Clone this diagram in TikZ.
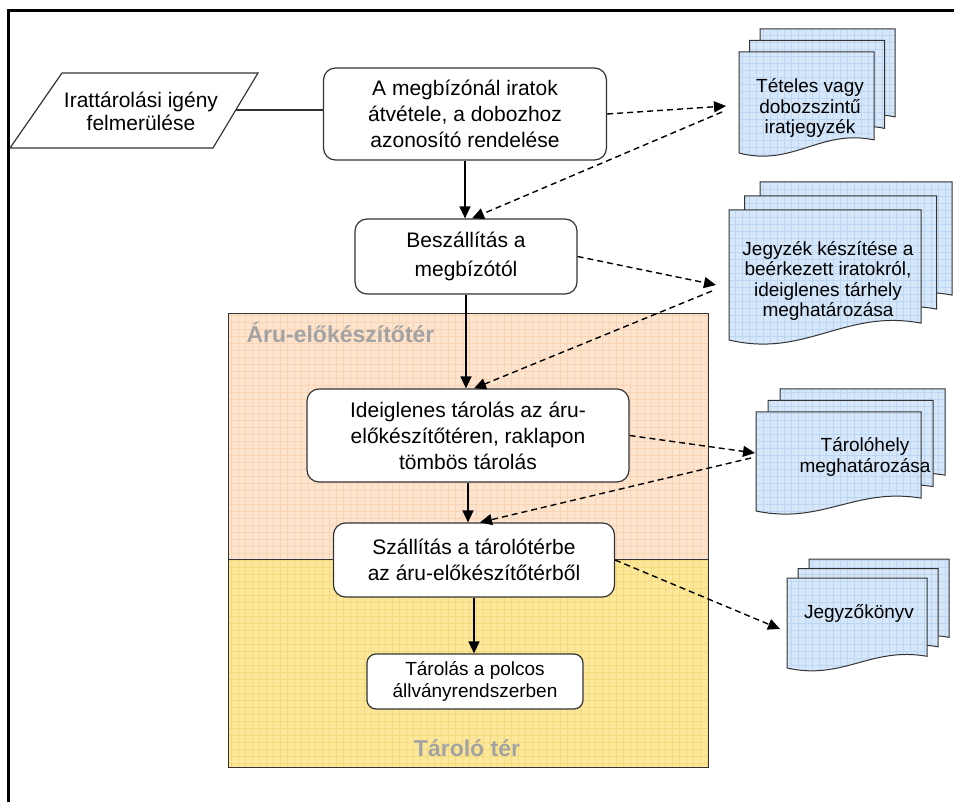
\documentclass[tikz,border=0pt]{standalone}
\usepackage{fontspec}
\setmainfont{Liberation Sans}
\usetikzlibrary{arrows.meta}

\definecolor{prepfill}{HTML}{FDE4CF}
\definecolor{prepgrid}{HTML}{F8D3B4}
\definecolor{storefill}{HTML}{FCE89A}
\definecolor{storegrid}{HTML}{F4DA7C}
\definecolor{docfill}{HTML}{D6E7FA}
\definecolor{docgrid}{HTML}{BDD7F2}
\definecolor{edge}{HTML}{333333}
\definecolor{zonetext}{HTML}{A3A3A3}

% one sheet of a document stack: left, top, width, height
\newcommand\docpage[4]{%
  \path[docpage] ({#1},{#2}) -- ({#1+#3},{#2}) -- ({#1+#3},{#2+0.87*#4})
    .. controls ({#1+0.6*#3},{#2+0.76*#4}) and ({#1+0.4*#3},{#2+1.14*#4}) .. ({#1},{#2+#4}) -- cycle;}
% three sheets, shifted by dx, dy
\newcommand\multidoc[6]{%
  \docpage{#1+2*#5}{#2-2*#6}{#3}{#4}
  \docpage{#1+#5}{#2-#6}{#3}{#4}
  \docpage{#1}{#2}{#3}{#4}}

\begin{document}
\begin{tikzpicture}[x=1pt,y=-1pt,
  gridded/.style={path picture={\draw[#1,line width=0.5pt,step=7pt]
      (path picture bounding box.south west) grid (path picture bounding box.north east);}},
  docpage/.style={fill=docfill,draw=edge,line width=1pt,gridded=docgrid},
  procbox/.style={draw=edge,fill=white,rounded corners=12pt,line width=1.2pt,
      align=center,inner sep=0pt,font=\fontsize{21}{26}\selectfont},
  doctext/.style={align=center,font=\fontsize{19}{20.5}\selectfont},
  zonelabel/.style={text=zonetext,font=\bfseries\fontsize{23}{27}\selectfont},
  flow/.style={line width=1.4pt,-{Triangle[length=12pt,width=11pt]}},
  info/.style={flow,dash pattern=on 6pt off 4pt}]
\useasboundingbox (0,0) rectangle (954,802);

% frame
\draw[line width=3pt] (8,802) -- (8,11) -- (954,11);

% zones
\path[fill=prepfill,gridded=prepgrid] (228,313) rectangle (708,559);
\path[fill=storefill,gridded=storegrid] (228,559) rectangle (708,767);
\draw[edge,line width=0.8pt] (228,313) rectangle (708,767);
\draw[edge,line width=0.8pt] (228,559) -- (708,559);
\node[zonelabel,anchor=base west] (prepzone) at (243,343) {Áru-előkészítőtér};
\node[zonelabel] (storezone) at (467,748) {Tároló tér};

% start
\draw[edge,line width=1.2pt,fill=white] (62,73) -- (258,73) -- (213,148) -- (10,148) -- cycle;
\node[align=center,font=\fontsize{21}{23}\selectfont] (need) at (141,111) {Irattárolási igény\\felmerülése};
\coordinate (needout) at (236,110);

% process steps
\node[procbox,minimum width=283pt,minimum height=92pt] (accept) at (465,114)
  {A megbízónál iratok\\átvétele, a dobozhoz\\azonosító rendelése};
\node[procbox,minimum width=222pt,minimum height=75pt,font=\fontsize{21}{29}\selectfont] (pickup) at (466,256.5)
  {Beszállítás a\\megbízótól};
\node[procbox,minimum width=322pt,minimum height=93pt] (buffer) at (468,435.5)
  {Ideiglenes tárolás az áru-\\előkészítőtéren, raklapon\\tömbös tárolás};
\node[procbox,minimum width=281pt,minimum height=74pt] (transfer) at (474,560)
  {Szállítás a tárolótérbe\\az áru-előkészítőtérből};
\node[procbox,minimum width=216pt,minimum height=55pt,rounded corners=9pt,
  font=\fontsize{19}{22}\selectfont] (shelve) at (475,681.5)
  {Tárolás a polcos\\állványrendszerben};

% documents
\multidoc{739}{52}{135}{101}{10.5}{11.5}
\node[doctext] (list) at (810,108) {Tételes vagy\\dobozszintű\\iratjegyzék};
\multidoc{729}{210}{192}{130}{15.5}{14}
\node[doctext] (intake) at (828,281) {Jegyzék készítése a\\beérkezett iratokról,\\ideiglenes tárhely\\meghatározása};
\multidoc{756}{412}{165}{99}{12}{11.5}
\node[doctext] (slot) at (865,457) {Tárolóhely\\meghatározása};
\multidoc{787}{578}{140}{90}{11}{9.5}
\node[doctext] (minutes) at (859,613) {Jegyzőkönyv};

\coordinate (listin) at (726,106);
\coordinate (listout) at (722,112);
\coordinate (intakein) at (716,285);
\coordinate (intakeout) at (712,291);
\coordinate (slotin) at (755,453);
\coordinate (slotout) at (751,458);
\coordinate (minutesin) at (780,629);

% main flow
\draw[edge,line width=1.4pt] (needout) -- (needout -| accept.west);
\draw[flow] (accept.south) -- (accept.south |- pickup.north);
\draw[flow] (pickup.south) -- (pickup.south |- buffer.north);
\draw[flow] (buffer.south) -- (buffer.south |- transfer.north);
\draw[flow] (transfer.south) -- (transfer.south |- shelve.north);

% paperwork
\draw[info] (accept.east) -- (listin);
\draw[info] (listout) -- ([xshift=6pt]pickup.north);
\draw[info] (pickup.east) -- (intakein);
\draw[info] (intakeout) -- ([xshift=6pt]buffer.north);
\draw[info] (buffer.east) -- (slotin);
\draw[info] (slotout) -- ([xshift=6pt]transfer.north);
\draw[info] (transfer.east) -- (minutesin);
\end{tikzpicture}
\end{document}
